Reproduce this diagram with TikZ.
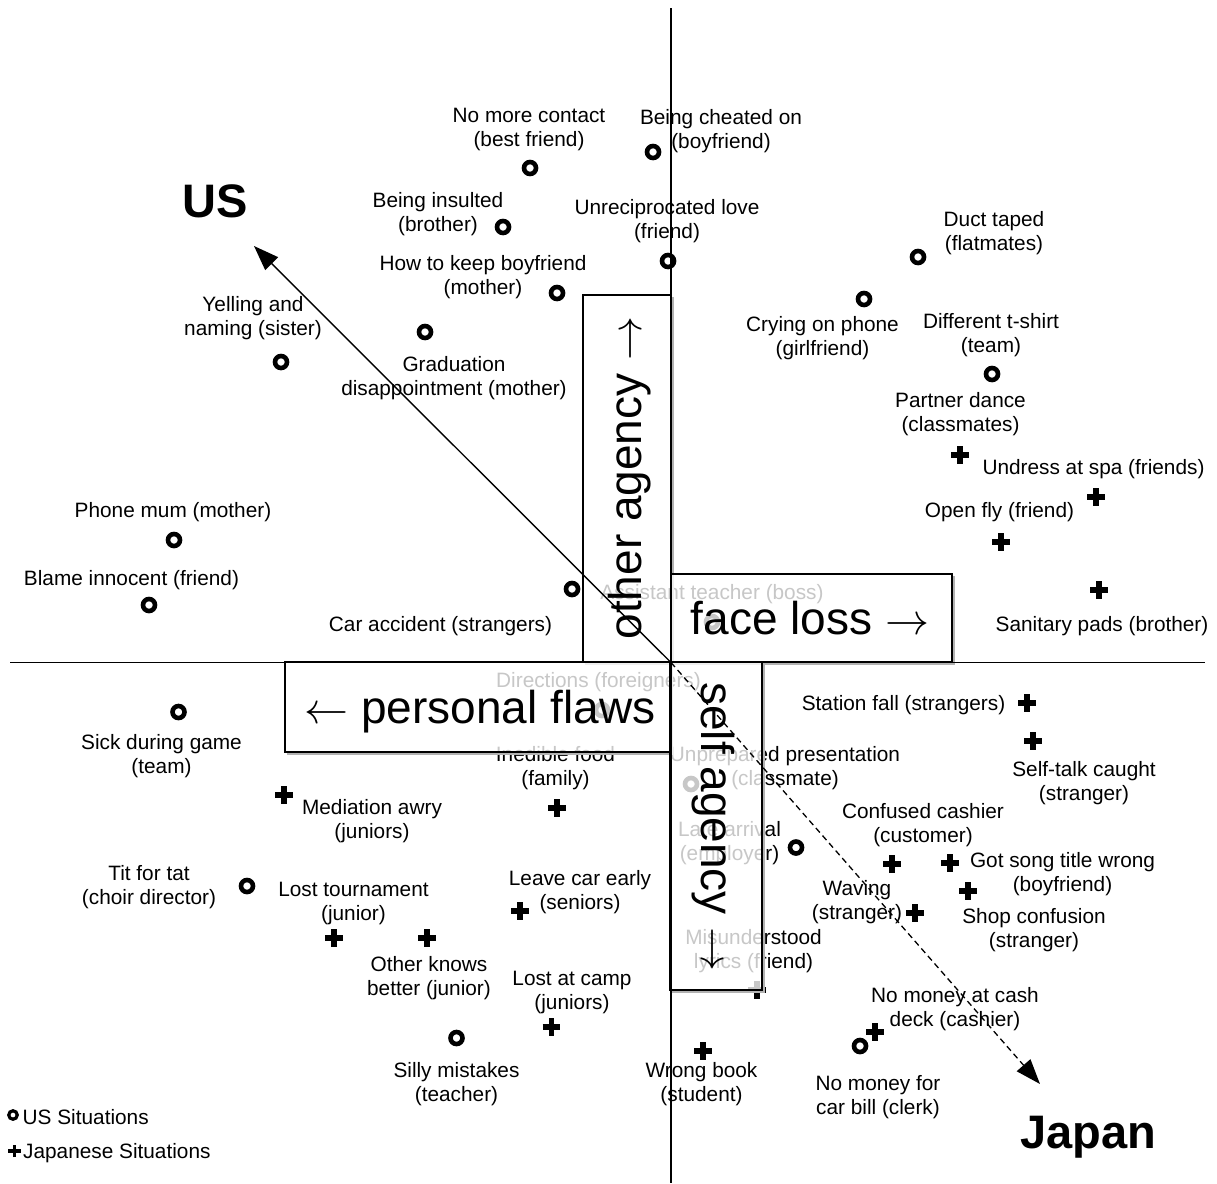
\documentclass[tikz,border=0pt]{standalone}
\usepackage{fontspec}
\usepackage{graphicx}
\setmainfont{Liberation Sans}
\usetikzlibrary{arrows.meta,shapes.misc}
\newcommand\lbf{\fontsize{20.8}{24}\selectfont}
\newcommand\bigf{\fontsize{46}{50}\selectfont}
\newcommand\hugef{\fontsize{47}{50}\selectfont\bfseries}
\newcommand\rarr{\scalebox{4.4}{\fontsize{10}{12}\selectfont$\rightarrow$}}
\newcommand\larr{\scalebox{4.4}{\fontsize{10}{12}\selectfont$\leftarrow$}}
\begin{document}
\begin{tikzpicture}[x=1pt,y=-1pt,
  lab/.style={font=\lbf, align=center, inner sep=0pt},
  labw/.style={font=\lbf, anchor=west, inner sep=0pt},
  usm/.style={circle, draw, line width=4.6pt, minimum size=12pt, inner sep=0pt, outer sep=0pt},
  jpm/.style={cross out, draw, line width=5.8pt, minimum size=12.5pt, inner sep=0pt, outer sep=0pt, rotate=45},
  usms/.style={usm, line width=3.2pt, minimum size=8.5pt},
  jpms/.style={jpm, line width=3.8pt, minimum size=8.5pt},
  boxst/.style={draw, line width=1.2pt, fill=white, fill opacity=0.78, text opacity=1, inner sep=0pt},
  shad/.style={draw=black!30, line width=1.6pt},
  bigt/.style={font=\bigf, inner sep=0pt, anchor=base},
  axisln/.style={line width=1.4pt},
  arr/.style={line width=1.4pt, -{Triangle[length=25pt,width=18pt]}}]
\useasboundingbox (0,0) rectangle (1217,1183);

% ---------- labels ----------
\node[lab] (l1) at (529,129.5) {No more contact\\(best friend)};
\node[lab] (l2) at (721,131.5) {Being cheated on\\(boyfriend)};
\node[lab] (l3) at (438,214) {Being insulted\\(brother)};
\node[lab] (l4) at (667,221.5) {Unreciprocated love\\(friend)};
\node[lab] (l5) at (483,277) {How to keep boyfriend\\(mother)};
\node[lab] (l6) at (253,318) {Yelling and\\naming (sister)};
\node[lab] (l7) at (454,378.5) {Graduation\\disappointment (mother)};
\node[lab] (l8) at (994,233) {Duct taped\\(flatmates)};
\node[lab] (l9) at (822.5,338.5) {Crying on phone\\(girlfriend)};
\node[lab] (l10) at (991,335) {Different t-shirt\\(team)};
\node[lab] (l11) at (960.5,414) {Partner dance\\(classmates)};
\node[lab] (l12) at (1093.5,469) {Undress at spa (friends)};
\node[lab] (l13) at (999.5,512) {Open fly (friend)};
\node[lab] (l14) at (1102,626) {Sanitary pads (brother)};
\node[lab] (l15) at (173,512) {Phone mum (mother)};
\node[lab] (l16) at (131.5,580) {Blame innocent (friend)};
\node[lab] (l17) at (440.5,626) {Car accident (strangers)};
\node[lab] (l18) at (712,594) {Assistant teacher (boss)};
\node[lab] (l19) at (598.5,682) {Directions (foreigners)};
\node[lab] (l20) at (161.5,756.5) {Sick during game\\(team)};
\node[lab] (l21) at (372,821) {Mediation awry\\(juniors)};
\node[lab] (l22) at (555.5,768) {Inedible food\\(family)};
\node[lab] (l23) at (785,768.5) {Unprepared presentation\\(classmate)};
\node[lab] (l24) at (729.5,843) {Late arrival\\(employer)};
\node[lab] (l25) at (149,887) {Tit for tat\\(choir director)};
\node[lab] (l26) at (353.5,903) {Lost tournament\\(junior)};
\node[lab] (l27) at (429,978) {Other knows\\better (junior)};
\node[lab] (l28) at (580,892.5) {Leave car early\\(seniors)};
\node[lab] (l29) at (572,992) {Lost at camp\\(juniors)};
\node[lab] (l30) at (456.5,1084.5) {Silly mistakes\\(teacher)};
\node[lab] (l31) at (701.5,1084) {Wrong book\\(student)};
\node[lab] (l32) at (903.5,705) {Station fall (strangers)};
\node[lab] (l33) at (1084,783) {Self-talk caught\\(stranger)};
\node[lab] (l34) at (923,825) {Confused cashier\\(customer)};
\node[lab] (l35) at (1062.5,874) {Got song title wrong\\(boyfriend)};
\node[lab] (l36) at (1034,930) {Shop confusion\\(stranger)};
\node[lab] (l37) at (857,902.5) {Waving\\(stranger)};
\node[lab] (l38) at (753.5,951.5) {Misunderstood\\lyrics (friend)};
\node[lab] (l39) at (955,1009) {No money at cash\\deck (cashier)};
\node[lab] (l40) at (878,1097) {No money for\\car bill (clerk)};

% ---------- markers ----------
\node[usm] (m1) at (530,168) {};
\node[usm] (m2) at (653,152) {};
\node[usm] (m3) at (503,227) {};
\node[usm] (m4) at (668,261) {};
\node[usm] (m5) at (557,293) {};
\node[usm] (m6) at (281,362) {};
\node[usm] (m7) at (425,332) {};
\node[usm] (m8) at (918,257) {};
\node[usm] (m9) at (864,299) {};
\node[usm] (m10) at (992,374) {};
\node[jpm] (m11) at (960,455) {};
\node[jpm] (m12) at (1096,497) {};
\node[jpm] (m13) at (1001,542) {};
\node[jpm] (m14) at (1099,590) {};
\node[usm] (m15) at (174,540) {};
\node[usm] (m16) at (149,605) {};
\node[usm] (m17) at (572,589) {};
\node[usm] (m18) at (712,622) {};
\node[usm] (m19) at (602,710) {};
\node[usm] (m20) at (178.5,712) {};
\node[jpm] (m21) at (284,795) {};
\node[jpm] (m22) at (557,808) {};
\node[usm] (m23) at (691,784) {};
\node[usm] (m24) at (796,847.5) {};
\node[usm] (m25) at (247,886) {};
\node[jpm] (m26) at (334,938) {};
\node[jpm] (m27) at (427,938) {};
\node[jpm] (m28) at (520,911) {};
\node[jpm] (m29) at (551.5,1027) {};
\node[usm] (m30) at (456.5,1038) {};
\node[jpm] (m31) at (703,1051) {};
\node[jpm] (m32) at (1027,703) {};
\node[jpm] (m33) at (1033,741) {};
\node[jpm] (m34) at (892,864) {};
\node[jpm] (m35) at (950,863) {};
\node[jpm] (m36) at (968,891) {};
\node[jpm] (m37) at (915,913) {};
\node[jpm] (m38) at (757,990) {};
\node[usm] (m39) at (860,1046) {};
\node[jpm] (m40) at (875,1032) {};

% ---------- legend ----------
\node[usms] (g1) at (13,1115) {};
\node[labw] (gl1) at (22.5,1117) {US Situations};
\node[jpms] (g2) at (14.5,1151) {};
\node[labw] (gl2) at (23,1153) {Japanese Situations};

% ---------- boxes ----------
\draw[shad] (585,664) -- (673,664) -- (673,297);
\draw[shad] (673,664) -- (954,664) -- (954,576);
\draw[shad] (287,754) -- (672,754) -- (672,664);
\draw[shad] (672,992) -- (764,992) -- (764,664);
\node[boxst, minimum width=88pt, minimum height=367pt] (boa) at (627,478.5) {};
\node[boxst, minimum width=281pt, minimum height=88pt] (bfl) at (811.5,618) {};
\node[boxst, minimum width=385pt, minimum height=90pt] (bpf) at (477.5,707) {};
\node[boxst, minimum width=92pt, minimum height=328pt] (bsa) at (716,826) {};

\node[bigt, rotate=90] (toa) at (641,478) {other agency \rarr};
\node[bigt] (tfl) at (810,634) {face loss \rarr};
\node[bigt] (tpf) at (480,723) {\larr\ personal flaws};
\node[bigt, rotate=-90] (tsa) at (701,827) {self agency \rarr};

% ---------- country labels ----------
\node[font=\hugef, inner sep=0pt, anchor=base] (us) at (215,217) {US};
\node[font=\hugef, inner sep=0pt, anchor=base] (jp) at (1088,1148) {Japan};

% ---------- axes ----------
\coordinate (vt) at (671,8);
\coordinate (vb) at (671,1183);
\coordinate (hl) at (10,662.5);
\coordinate (hr) at (1205,662.5);
\draw[axisln] (vt) -- (vb);
\draw[axisln] (hl) -- (hr);

% ---------- arrows ----------
\coordinate (o) at (671,662.5);
\coordinate (ustip) at (254,246);
\coordinate (jptip) at (1040,1084);
\draw[arr] (o) -- (ustip);
\draw[arr, line width=1.3pt, dash pattern=on 6pt off 4pt] (o) -- (jptip);
\end{tikzpicture}
\end{document}
